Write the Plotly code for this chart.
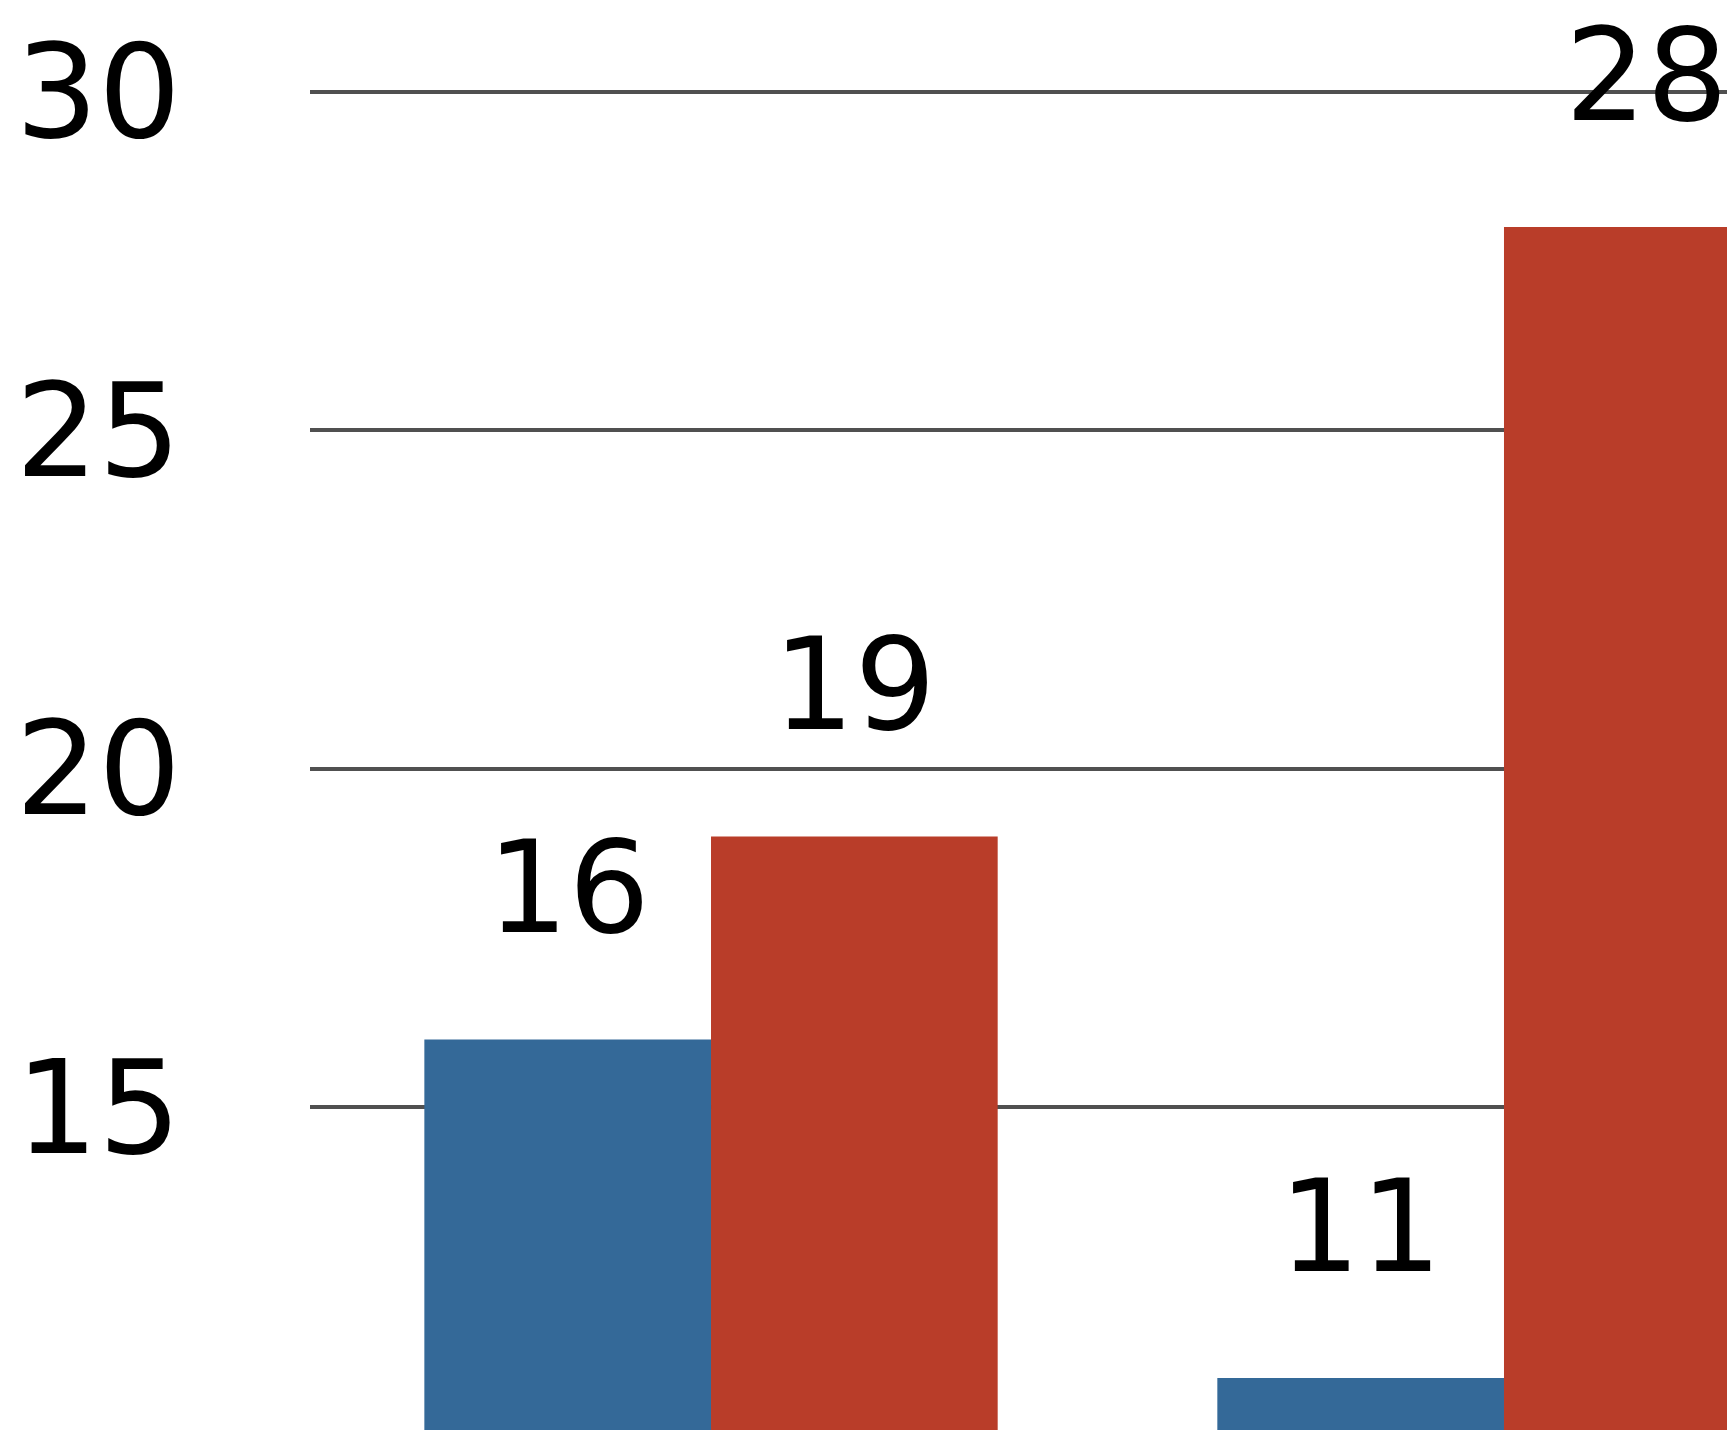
import plotly.graph_objects as go

categories = ["Category 1", "Category 2"]
series_blue = [16, 11]
series_red = [19, 28]
y_ticks = [10, 15, 20, 25, 30]

BLUE = "#346998"
RED = "#b93d29"
FONT = "DejaVu Sans"

fig = go.Figure()
fig.add_trace(go.Bar(x=categories, y=series_blue, name="Series 1",
                     marker=dict(color=BLUE, line=dict(width=0))))
fig.add_trace(go.Bar(x=categories, y=series_red, name="Series 2",
                     marker=dict(color=RED, line=dict(width=0))))

for i, cat in enumerate(categories):
    for vals, off in ((series_blue, 0), (series_red, 1)):
        fig.add_annotation(
            x=cat, y=vals[i], xref="x", yref="y",
            text=str(vals[i]), showarrow=False,
            xshift=(-143 if off == 0 else 143),
            yanchor="middle", yshift=152,
            font=dict(family=FONT, size=128, color="#000000"),
        )

fig.update_layout(
    width=1735, height=1430,
    margin=dict(l=302, r=0, t=0, b=0),
    paper_bgcolor="white", plot_bgcolor="white",
    barmode="group", bargap=0.277, bargroupgap=0.0,
    showlegend=False,
    font=dict(family=FONT, color="#000000"),
)
fig.update_xaxes(range=[-0.5057, 1.3014], showticklabels=False, showgrid=False,
                 zeroline=False, showline=False, ticks="")
fig.update_yaxes(range=[10.114, 31.236], tickvals=y_ticks, showgrid=True,
                 gridcolor="#505050", gridwidth=3.5, zeroline=False, showline=False,
                 ticks="", ticklabelstandoff=128,
                 tickfont=dict(family=FONT, size=130, color="#000000"))

fig.write_html("out.html")
